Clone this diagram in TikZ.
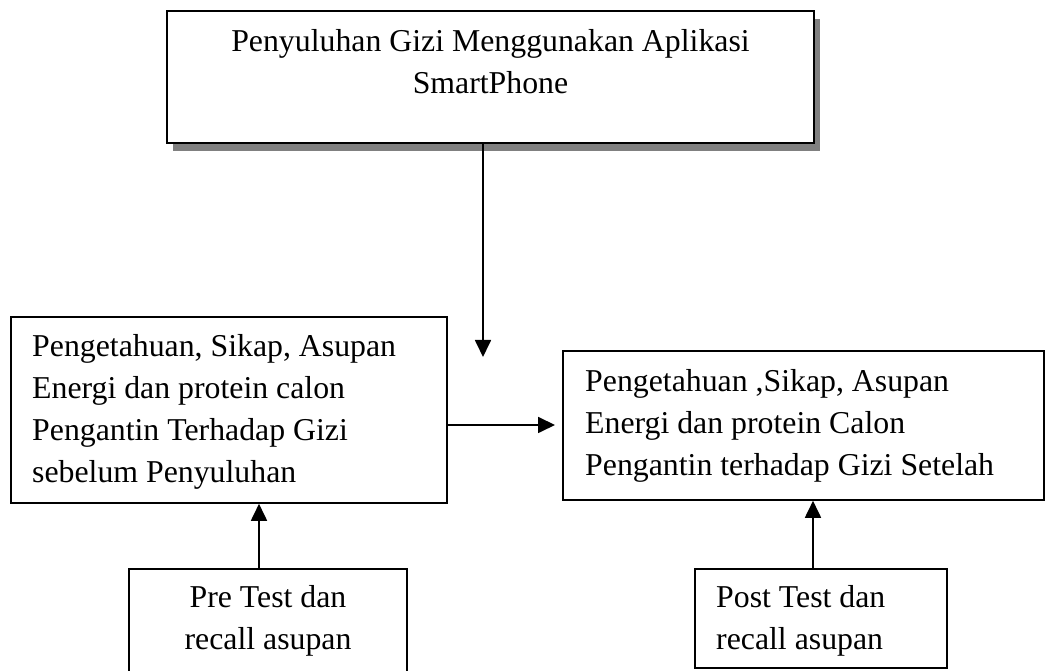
\documentclass[tikz,border=0pt]{standalone}
\usepackage{fontspec}
\setmainfont{Liberation Serif}
\usetikzlibrary{arrows.meta}
\begin{document}
\begin{tikzpicture}[x=1pt,y=1pt,
  box/.style={draw, line width=1.6pt, fill=white, inner sep=0pt, minimum width=#1},
  lbl/.style={inner sep=0pt, font=\fontsize{31.8}{41.8}\selectfont},
  arr/.style={line width=1.8pt, -{Triangle[length=17pt,width=16pt]}}]
\clip (0,0) rectangle (1045,671);
\fill[white] (0,0) rectangle (1045,671);
% top box with shadow
\fill[black!50] (173,520) rectangle (820,652);
\node[box=647pt, minimum height=132pt] (top) at (490.5,594) {};
\node[lbl, anchor=base] (toptext) at (490.5,619)
  {\begin{tabular}[t]{@{}c@{}}Penyuluhan Gizi Menggunakan Aplikasi\\ SmartPhone\end{tabular}};
% left box
\node[box=436pt, minimum height=186pt] (left) at (229,261) {};
\node[lbl, anchor=base west] (lefttext) at (32,314)
  {\begin{tabular}[t]{@{}l@{}}Pengetahuan, Sikap, Asupan\\ Energi dan protein calon\\ Pengantin Terhadap Gizi\\ sebelum Penyuluhan\end{tabular}};
% right box
\node[box=481pt, minimum height=149pt] (right) at (803.5,245.5) {};
\node[lbl, anchor=base west] (righttext) at (585,279)
  {\begin{tabular}[t]{@{}l@{}}Pengetahuan ,Sikap, Asupan\\ Energi dan protein Calon\\ Pengantin terhadap Gizi Setelah\end{tabular}};
% bottom boxes
\node[box=278pt, minimum height=131pt] (pre) at (268,36.5) {};
\node[lbl, anchor=base] (pretext) at (268,63)
  {\begin{tabular}[t]{@{}c@{}}Pre Test dan\\ recall asupan\end{tabular}};
\node[box=252pt, minimum height=99pt] (post) at (821,52.5) {};
\node[lbl, anchor=base west] (posttext) at (716,63)
  {\begin{tabular}[t]{@{}l@{}}Post Test dan\\ recall asupan\end{tabular}};
% connectors
\coordinate (vtip) at (483,314);
\coordinate (htip) at (555,246);
\coordinate (pa) at (259,0);
\coordinate (pb) at (813,0);
\draw[arr] (top.south -| vtip) -- (vtip);
\draw[arr] (left.east |- htip) -- (htip);
\draw[arr] (pre.north -| pa) -- (left.south -| pa);
\draw[arr] (post.north -| pb) -- (right.south -| pb);
\end{tikzpicture}
\end{document}
